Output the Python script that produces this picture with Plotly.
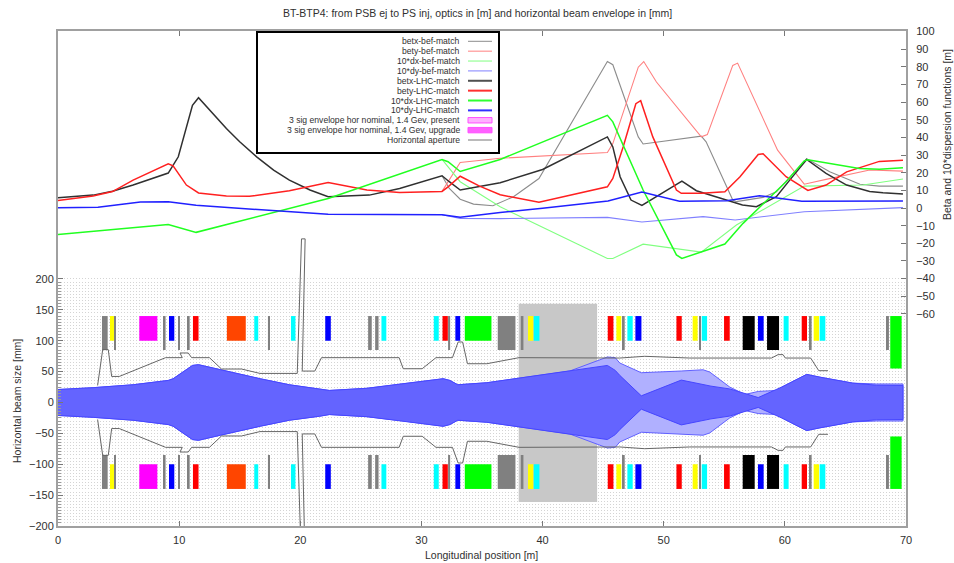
import plotly.graph_objects as go

TITLE = "BT-BTP4: from PSB ej to PS inj, optics in [m] and horizontal beam envelope in [mm]"
FONT = "Liberation Sans"
TEXT = "#303030"

# ---------- optics after LHC match ----------
betx_lhc_s = [0, 2.9, 4.5, 6.2, 9.1, 9.93, 11.1, 11.6, 13.9, 15, 16.4, 17.8, 19.1, 20.8, 22.3, 25.7, 28.2, 31.7, 32.3, 33.2, 36.5, 40, 45.35, 45.8, 46.4, 47.3, 48.2, 51.5, 52.7, 55.2, 56.5, 57.65, 59.3, 60.4, 61.8, 63.4, 65.1, 67, 68.1, 69.75]
betx_lhc = [5.8, 7.3, 9.5, 13, 19.8, 29, 58.2, 62.5, 45, 37.5, 29, 21.5, 15.8, 10.2, 6.4, 7.3, 11.1, 18.3, 14.9, 10.2, 14.3, 21.8, 40.3, 34.6, 17.7, 4.5, 1.5, 15.2, 9.8, 4.5, 1.7, 0.7, 6.4, 15.8, 27.5, 19.6, 13, 9.4, 8.6, 7.9]

bety_lhc_s = [0, 2.9, 4.5, 6.2, 9.1, 9.5, 10.6, 11.6, 13.9, 15.8, 19.1, 22.3, 25.5, 28.2, 31.7, 32.2, 33.2, 34.8, 36.5, 39.7, 45.35, 45.8, 46.65, 47.7, 48.1, 49.1, 51.05, 51.45, 53.1, 55.05, 56.3, 57.8, 58.2, 60.1, 61.9, 63.4, 65.1, 67.8, 69.75]
bety_lhc = [4.3, 6.8, 9.3, 15.8, 25, 23.9, 13, 8.5, 6.8, 6.6, 9.8, 14.5, 10.2, 8.8, 9.4, 12, 18, 12.4, 7.5, 3.2, 12, 16.7, 34.6, 59.1, 60.8, 40.3, 10.2, 8.3, 8.3, 9.2, 17.7, 30.3, 30.7, 17.7, 10, 13, 20.5, 26.4, 27.1]

dx_lhc_s = [0, 6.2, 9.1, 11.4, 22.3, 31.7, 32.2, 33.2, 36.5, 45.35, 45.8, 48.3, 51.05, 51.5, 55.05, 56.55, 60.1, 61.6, 61.9, 66.15, 67.8, 69.75]
dx_lhc = [-15, -11.1, -9.4, -13.8, 5.4, 27.5, 26.2, 20.7, 27.5, 52.5, 48.8, 10.2, -26.6, -28.6, -20.4, -8.7, 14.9, 26.7, 27.3, 22.4, 22, 22.8]

dy_lhc_s = [0, 3.3, 6.8, 9.1, 11.4, 15.8, 22.3, 31.7, 33.2, 36.5, 40, 45.4, 48.2, 51.3, 55.2, 57.9, 61.4, 69.75]
dy_lhc = [0.2, 0.4, 3.4, 3.6, 1.5, -0.6, -3.6, -3.8, -5.2, -2.5, -0.2, 4, 9, 3.8, 4.1, 7, 3.8, 4]

# ---------- optics before match (only where they differ) ----------
betx_bef_s = [31.7, 32.3, 33.2, 34.3, 35.9, 37.6, 39.7, 45.35, 45.8, 47.9, 48.3, 53.1, 53.5, 55.7, 56, 58.2, 59.3, 61.8, 63.7, 66.2, 67.8, 69.75]
betx_bef = [18.3, 11.1, 5, 2.2, 1.3, 6.4, 16.7, 83, 81.2, 40.3, 36.3, 40.7, 37.5, 4.5, 3.6, 6, 9.2, 28, 20.5, 13.5, 12.4, 12.4]

bety_bef_s = [31.7, 33.2, 36.5, 45.35, 45.8, 47.9, 48.35, 49.4, 53.1, 53.6, 55.7, 56.1, 59.4, 61.6, 63.4, 67, 69.75]
bety_bef = [9.4, 25.8, 28.2, 31.4, 36.5, 79.8, 83, 71.4, 40.3, 41.6, 80.8, 82.1, 32.8, 13.5, 16.2, 21.5, 20.9]

dx_bef_s = [31.7, 33.2, 36.5, 45.35, 45.8, 48.3, 53.1, 56, 61.6, 66.45, 69.75]
dx_bef = [27.5, 14.9, 0.7, -28.6, -28.6, -20.5, -25, -9.6, 12.4, 13, 16.4]

dy_bef_s = [31.7, 33.2, 36.5, 45.35, 48.2, 53.25, 55.9, 61.6, 69.75]
dy_bef = [-3.8, -5.9, -6, -5.3, -7.9, -4.9, -6.8, -2.1, 0.2]

# ---------- 3 sigma envelopes (half size, mm) ----------
env_up_s = [0, 2.9, 6.2, 9.1, 9.5, 11.1, 11.6, 13.4, 16.7, 19.1, 21.6, 22.4, 25.5, 28.5, 31.8, 32.35, 33, 35.4, 42.25, 45.35, 46, 46.37, 48.15, 51.45, 53.9, 55.45, 57.8, 59.85, 61.8, 62.9, 65.6, 67.55, 69.75]
env_up = [21, 24, 28.7, 35.7, 38.4, 60, 61.2, 53, 38.4, 28.7, 22.2, 19.5, 23, 30, 38.5, 35.7, 28.7, 32, 51, 60, 52, 44, 10.8, 36.3, 26.5, 22, 8, 26, 45.5, 41, 31.4, 28, 27.6]

env_pr_s = [0, 2.9, 6.2, 9.1, 9.5, 11.1, 11.6, 13.4, 16.7, 19.1, 21.6, 22.4, 25.5, 28.5, 31.8, 32.35, 33, 35.4, 42.25, 45.35, 46, 46.37, 48.15, 51.45, 53.25, 53.8, 55.45, 56.7, 57.8, 59.3, 59.85, 61.8, 62.9, 65.6, 67.55, 69.75]
env_pr = [21, 24, 28.7, 35.7, 38.4, 60, 61.2, 53, 38.4, 28.7, 22.2, 19.5, 23, 30, 38.5, 35.7, 28.7, 32, 51, 73.7, 72.6, 64, 48.2, 51, 53, 49.3, 25, 13, 17.9, 19.5, 26, 45.5, 41, 31.4, 30, 30]

# ---------- horizontal aperture (upper half, mm) ----------
ap_s = [3.27, 3.6, 3.69, 4.15, 4.43, 5.06, 8.88, 10.26, 10.07, 10.75, 11.03, 12.5, 13.5, 15.15, 16.67, 19.75, 20.1, 20.4, 20.16, 21.2, 21.75, 28.16, 28.5, 30.06, 31.2, 32.56, 33.03, 33.4, 33.8, 35.4, 38.06, 46.37, 48.43, 52.15, 58.9, 59.44, 59.85, 60.04, 62.13, 62.8, 63.56]
ap_x = [27.6, 79, 85.6, 85.6, 42.2, 42.2, 72.6, 72.6, 80.2, 80.2, 72.6, 72.6, 54.2, 54.2, 47.1, 47.1, 265, 265, 50.9, 50.9, 72.6, 72.6, 54.7, 54.7, 72.6, 72.6, 98, 98, 62.8, 62.8, 72.6, 72, 74.8, 72, 72, 77.5, 77.5, 72, 72, 51.5, 51.5]

# ---------- beamline elements ----------
el_start = [3.63, 4.29, 4.68, 6.71, 8.72, 9.16, 9.96, 10.73, 11.14, 13.94, 16.2, 17.33, 19.23, 22.06, 25.6, 26.18, 26.7, 31.02, 31.74, 32.2, 32.8, 33.58, 36.3, 38.2, 38.8, 39.27, 45.38, 46.09, 46.62, 47.0, 47.66, 51.05, 52.39, 52.92, 53.14, 54.98, 56.52, 57.78, 58.53, 59.9, 61.39, 62.05, 62.38, 62.87, 68.43, 68.7]
el_end = [4.1, 4.62, 4.79, 8.2, 8.88, 9.6, 10.07, 10.87, 11.6, 15.5, 16.53, 17.5, 19.6, 22.52, 25.9, 26.46, 27.1, 31.43, 32.18, 32.37, 33.2, 35.78, 37.76, 38.42, 39.24, 39.74, 45.85, 46.5, 46.78, 47.44, 48.16, 51.49, 52.8, 53.08, 53.58, 55.45, 57.51, 58.25, 59.52, 60.31, 61.83, 62.21, 62.82, 63.34, 68.59, 69.64]
el_low = [85, 100, 85, 100, 85, 100, 85, 85, 100, 100, 100, 85, 100, 100, 85, 85, 100, 100, 100, 85, 100, 100, 85, 85, 100, 100, 100, 100, 85, 100, 100, 100, 100, 85, 100, 100, 85, 100, 85, 100, 100, 85, 100, 100, 85, 55]
el_color = ["gray", "yellow", "gray", "magenta", "gray", "blue", "gray", "gray", "red", "orangered", "cyan", "gray", "cyan", "blue", "gray", "gray", "cyan", "cyan", "red", "gray", "blue", "lime", "gray", "gray", "yellow", "cyan", "red", "yellow", "gray", "cyan", "blue", "red", "yellow", "gray", "cyan", "red", "black", "blue", "black", "cyan", "red", "gray", "yellow", "cyan", "gray", "lime"]
el_high = 140

band_s = [38.03, 44.5]
band_mm = [-161, 160]

# ---------- axes ----------
left_ticks = [-200, -150, -100, -50, 0, 50, 100, 150, 200]
right_ticks = [100, 90, 80, 70, 60, 50, 40, 30, 20, 10, 0, -10, -20, -30, -40, -50, -60]
x_ticks = [0, 10, 20, 30, 40, 50, 60, 70]
grid_mm = list(range(-200, 205, 5))

# ---------- legend ----------
legend_rows = [
    ("betx-bef-match", "#8c8c8c", 1.0), ("bety-bef-match", "#ff8080", 1.0),
    ("10*dx-bef-match", "#80ff80", 1.0), ("10*dy-bef-match", "#8080ff", 1.0),
    ("betx-LHC-match", "#505050", 2.0), ("bety-LHC-match", "#ff3030", 2.0),
    ("10*dx-LHC-match", "#30ff30", 2.0), ("10*dy-LHC-match", "#3030ff", 2.0),
    ("3 sig envelope hor nominal, 1.4 Gev, present", "#ffb0ff", 0),
    ("3 sig envelope hor nominal, 1.4 Gev, upgrade", "#ff60ff", 0),
    ("Horizontal aperture", "#777777", 1.0),
]

W, H = 954, 563
L, R, T, B = 58, 906, 31, 526


def px(x):
    return (x - L) / (R - L)


def py(y):
    return (B - y) / (B - T)


fig = go.Figure()

# elements and shaded band, mirrored about the axis
bar_x, bar_w, bar_base, bar_h, bar_c = [], [], [], [], []
bar_x.append(sum(band_s) / 2)
bar_w.append(band_s[1] - band_s[0])
bar_base.append(band_mm[0])
bar_h.append(band_mm[1] - band_mm[0])
bar_c.append("#c8c8c8")
for a, b, lo, c in zip(el_start, el_end, el_low, el_color):
    for base in (lo, -el_high):
        bar_x.append((a + b) / 2)
        bar_w.append(b - a)
        bar_base.append(base)
        bar_h.append(el_high - lo)
        bar_c.append(c)
fig.add_trace(go.Bar(x=bar_x, y=bar_h, base=bar_base, width=bar_w,
                     marker=dict(color=bar_c, line_width=0), yaxis="y", hoverinfo="skip"))


def envelope(s, v, fill, edge):
    fig.add_trace(go.Scatter(x=s + s[::-1], y=v + [-a for a in v[::-1]], mode="lines",
                             fill="toself", fillcolor=fill,
                             line=dict(color=edge, width=1), yaxis="y"))


envelope(env_pr_s, env_pr, "#b0b0ff", "#6060ff")
envelope(env_up_s, env_up, "#6464ff", "#4646ff")

for sign in (1, -1):
    fig.add_trace(go.Scatter(x=ap_s, y=[sign * a for a in ap_x], mode="lines",
                             line=dict(color="#666666", width=1), yaxis="y"))

thin = [(betx_bef_s, betx_bef, "#8c8c8c"), (bety_bef_s, bety_bef, "#ff8080"),
        (dx_bef_s, dx_bef, "#80ff80"), (dy_bef_s, dy_bef, "#8080ff")]
thick = [(betx_lhc_s, betx_lhc, "#303030"), (bety_lhc_s, bety_lhc, "#ff2020"),
         (dx_lhc_s, dx_lhc, "#20ff20"), (dy_lhc_s, dy_lhc, "#2020ff")]
for s, v, c in thin:
    fig.add_trace(go.Scatter(x=s, y=v, mode="lines", line=dict(color=c, width=1.1), yaxis="y2"))
for s, v, c in thick:
    fig.add_trace(go.Scatter(x=s, y=v, mode="lines", line=dict(color=c, width=1.5), yaxis="y2"))

# legend box drawn by hand: right-aligned text with the key to its right
shapes = [dict(type="rect", xref="paper", yref="paper", x0=px(257), x1=px(499), y0=py(153), y1=py(32),
               fillcolor="white", line=dict(color="black", width=2), layer="above")]
annotations = []
row_y0, row_dy = 41.3, 9.87
for i, (label, color, width) in enumerate(legend_rows):
    y = row_y0 + i * row_dy
    annotations.append(dict(text=label, xref="paper", yref="paper", x=px(462), y=py(y), xanchor="right",
                            yanchor="middle", showarrow=False, font=dict(family=FONT, size=8.6, color=TEXT)))
    if width:
        shapes.append(dict(type="line", xref="paper", yref="paper", x0=px(468), x1=px(492), y0=py(y), y1=py(y),
                           line=dict(color=color, width=width), layer="above"))
    else:
        shapes.append(dict(type="rect", xref="paper", yref="paper", x0=px(468), x1=px(492), y0=py(y + 2.7), y1=py(y - 2.7),
                           fillcolor=color, line=dict(color="#ff50ff", width=1), layer="above"))

annotations += [
    dict(text=TITLE, xref="paper", yref="paper", x=px(477), y=py(13), xanchor="center", yanchor="middle",
         showarrow=False, font=dict(family=FONT, size=10.5, color=TEXT)),
    dict(text="Horizontal beam size [mm]", xref="paper", yref="paper", x=px(17), y=py(401), xanchor="center",
         yanchor="middle", textangle=-90, showarrow=False, font=dict(family=FONT, size=10.5, color=TEXT)),
    dict(text="Beta and 10*dispersion functions [m]", xref="paper", yref="paper", x=px(947), y=py(135),
         xanchor="center", yanchor="middle", textangle=-90, showarrow=False,
         font=dict(family=FONT, size=10.5, color=TEXT)),
    dict(text="Longitudinal position [m]", xref="paper", yref="paper", x=px(481), y=py(555), xanchor="center",
         yanchor="middle", showarrow=False, font=dict(family=FONT, size=10.5, color=TEXT)),
]

tick_font = dict(family=FONT, size=11, color=TEXT)
fig.update_layout(
    width=W, height=H, margin=dict(l=L, r=W - R, t=T, b=H - B, pad=0),
    paper_bgcolor="white", plot_bgcolor="white", showlegend=False, barmode="overlay",
    shapes=shapes, annotations=annotations, font=dict(family=FONT),
    xaxis=dict(range=[0, 70], tickvals=x_ticks, ticks="inside", ticklen=5, tickcolor="#777777", tickwidth=1,
               showgrid=False, zeroline=False, showline=True, mirror="ticks", linecolor="#a0a0a0", linewidth=2,
               tickfont=tick_font, ticklabelstandoff=3),
    yaxis=dict(range=[-200, 601.6], tickmode="array", tickvals=left_ticks, ticks="inside", ticklen=5,
               tickcolor="#777777", tickwidth=1, showgrid=False, zeroline=False, showline=True,
               linecolor="#a0a0a0", linewidth=2, tickfont=tick_font,
               minor=dict(tickmode="array", tickvals=grid_mm, ticks="inside", ticklen=3, tickcolor="#999999",
                          showgrid=True, gridcolor="#d4d4d4", griddash="1px,2px", gridwidth=1)),
    yaxis2=dict(range=[-180.2, 100.3], overlaying="y", side="right", tickmode="array", tickvals=right_ticks,
                ticks="inside", ticklen=5, tickcolor="#777777", tickwidth=1, showgrid=False, zeroline=False,
                showline=True, linecolor="#a0a0a0", linewidth=2, tickfont=tick_font, ticklabelstandoff=6),
)

fig.write_html("out.html", config=dict(displayModeBar=False),
               post_script="document.body.style.margin='0';document.documentElement.style.overflow='hidden';")
